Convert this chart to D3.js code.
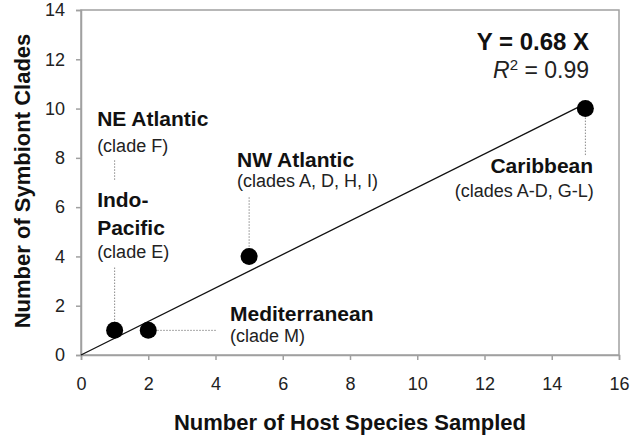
<!DOCTYPE html>
<html>
<head>
<meta charset="utf-8">
<script src="https://cdn.jsdelivr.net/npm/d3@7"></script>
<style>
  html, body { margin: 0; padding: 0; background: #fff; }
  svg text { font-family: "Liberation Sans", Arial, sans-serif; fill: #111; }
</style>
</head>
<body>
<div id="chart"></div>
<script>
// data
const hostSpecies = [1, 2, 5, 15]
const symbiontClades = [1, 1, 4, 10]
const regions = ['Indo-Pacific', 'Mediterranean', 'NW Atlantic', 'Caribbean']
const slope = 0.68
const rSquared = '0.99'
const xTicks = [0, 2, 4, 6, 8, 10, 12, 14, 16]
const yTicks = [0, 2, 4, 6, 8, 10, 12, 14]

const width = 631
const height = 438
const margin = { top: 10, right: 12, bottom: 83, left: 81 }
const w = width - margin.left - margin.right
const h = height - margin.top - margin.bottom

const svg = d3.select('#chart')
  .append('svg')
  .attr('width', width)
  .attr('height', height)

const g = svg.append('g')
  .attr('transform', `translate(${margin.left},${margin.top})`)

const x = d3.scaleLinear().domain([0, 16]).range([0, w])
const y = d3.scaleLinear().domain([0, 14]).range([h, 0])

const axisColor = '#a0a0a0'

// plot frame
g.append('rect')
  .attr('width', w)
  .attr('height', h)
  .attr('fill', 'none')
  .attr('stroke', axisColor)
  .attr('stroke-width', 1.5)

// axes
const xAxis = g.append('g')
  .attr('transform', `translate(0,${h})`)
  .call(d3.axisBottom(x).tickValues(xTicks).tickSize(5).tickPadding(17))
const yAxis = g.append('g')
  .call(d3.axisLeft(y).tickValues(yTicks).tickSize(5).tickPadding(11))

;[xAxis, yAxis].forEach(a => {
  a.select('.domain').attr('stroke', axisColor).attr('stroke-width', 1.5)
  a.selectAll('.tick line').attr('stroke', axisColor).attr('stroke-width', 1.5)
  a.selectAll('.tick text')
    .style('fill', '#222')
    .style('font-size', '18px')
    .style('font-family', '"Liberation Sans", Arial, sans-serif')
})

// regression line
g.append('line')
  .attr('x1', x(0))
  .attr('y1', y(0))
  .attr('x2', x(15))
  .attr('y2', y(slope * 15))
  .attr('stroke', '#111')
  .attr('stroke-width', 1.3)

// dotted leader lines (data units)
const leaders = [
  [[1, 7.9], [1, 7.1]],
  [[1, 3.55], [1, 1]],
  [[5, 6.4], [5, 4]],
  [[2, 1], [4.05, 1]],
  [[15, 10], [15, 8.1]]
]
g.append('g')
  .selectAll('line')
  .data(leaders)
  .join('line')
  .attr('x1', d => x(d[0][0]))
  .attr('y1', d => y(d[0][1]))
  .attr('x2', d => x(d[1][0]))
  .attr('y2', d => y(d[1][1]))
  .attr('stroke', '#8a8a8a')
  .attr('stroke-width', 1)
  .attr('stroke-dasharray', '1.5,1.5')

// points
g.append('g')
  .selectAll('circle')
  .data(hostSpecies.map((v, i) => ({ x: v, y: symbiontClades[i], region: regions[i] })))
  .join('circle')
  .attr('cx', d => x(d.x))
  .attr('cy', d => y(d.y))
  .attr('r', 8.5)
  .attr('fill', '#000')

// labels: [text, x, y (data units), bold, anchor]
const labels = [
  ['NE Atlantic', 0.48, 9.29, true, 'start'],
  ['(clade F)', 0.48, 8.24, false, 'start'],
  ['Indo-', 0.48, 6.01, true, 'start'],
  ['Pacific', 0.48, 4.87, true, 'start'],
  ['(clade E)', 0.48, 3.94, false, 'start'],
  ['NW Atlantic', 4.64, 7.63, true, 'start'],
  ['(clades A, D, H, I)', 4.64, 6.82, false, 'start'],
  ['Mediterranean', 4.43, 1.38, true, 'start'],
  ['(clade M)', 4.43, 0.53, false, 'start'],
  ['Caribbean', 15.23, 7.39, true, 'end'],
  ['(clades A-D, G-L)', 15.25, 6.41, false, 'end']
]
g.append('g')
  .selectAll('text')
  .data(labels)
  .join('text')
  .attr('x', d => x(d[1]))
  .attr('y', d => y(d[2]))
  .attr('text-anchor', d => d[4])
  .style('font-size', d => d[3] ? '21px' : '18px')
  .style('font-weight', d => d[3] ? 'bold' : 'normal')
  .style('fill', d => d[3] ? '#111' : '#222')
  .text(d => d[0])

// equation
g.append('text')
  .attr('x', x(15.11))
  .attr('y', y(12.38))
  .attr('text-anchor', 'end')
  .style('font-size', '24px')
  .style('font-weight', 'bold')
  .text(`Y = ${slope} X`)

const r2 = g.append('text')
  .attr('x', x(15.11))
  .attr('y', y(11.24))
  .attr('text-anchor', 'end')
  .style('font-size', '23px')
  .style('fill', '#222')
r2.append('tspan').style('font-style', 'italic').text('R')
r2.append('tspan').attr('dy', -8).style('font-size', '15px').text('2')
r2.append('tspan').attr('dy', 8).text(` = ${rSquared}`)

// axis titles
svg.append('text')
  .attr('x', margin.left + w / 2)
  .attr('y', 430)
  .attr('text-anchor', 'middle')
  .style('font-size', '22px')
  .style('font-weight', 'bold')
  .text('Number of Host Species Sampled')

svg.append('text')
  .attr('transform', `translate(30,${margin.top + 171}) rotate(-90)`)
  .attr('text-anchor', 'middle')
  .style('font-size', '22px')
  .style('font-weight', 'bold')
  .text('Number of Symbiont Clades')
</script>
</body>
</html>
